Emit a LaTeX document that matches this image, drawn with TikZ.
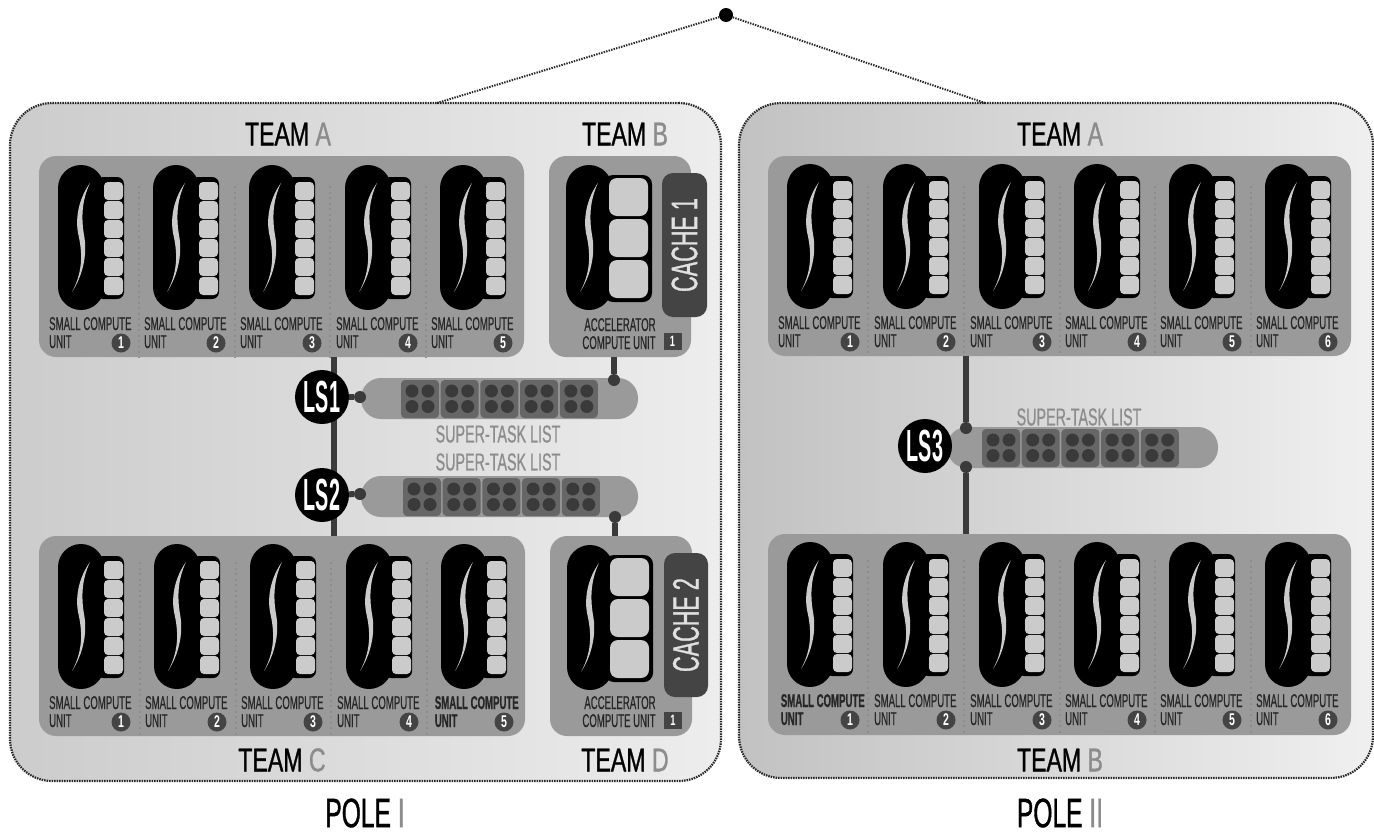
\documentclass[tikz,border=0pt]{standalone}
\usepackage{fontspec}
\setmainfont[FakeStretch=0.52,FakeBold=0.5]{Liberation Sans}
\newfontfamily\teamf[FakeStretch=0.7,FakeBold=0.9]{Liberation Sans}
\newfontfamily\polef[FakeStretch=0.6,FakeBold=0.9]{Liberation Sans}
\newfontfamily\taskf[FakeStretch=0.585,FakeBold=0.6]{Liberation Sans}
\newfontfamily\cachef[FakeStretch=0.585,FakeBold=0.9]{Liberation Sans}
\newfontfamily\lsf[FakeStretch=0.44]{Liberation Sans Bold}
\newfontfamily\numf[FakeStretch=0.62]{Liberation Sans Bold}
\definecolor{boxg}{HTML}{9A9A9A}
\definecolor{cellg}{HTML}{CBCBCB}
\definecolor{darkg}{HTML}{444444}
\definecolor{tileg}{HTML}{666666}
\definecolor{dotg}{HTML}{3A3A3A}
\definecolor{labg}{HTML}{8C8C8C}
\tikzset{
  bx/.style={inner sep=0pt,outer sep=0pt,fill=boxg,rounded corners=17pt},
  panelbox/.style={inner sep=0pt,outer sep=0pt,rounded corners=42pt,draw=black!85,line width=2.2pt,dash pattern=on 1.5pt off 1pt},
  wire/.style={line width=6pt,draw=dotg},
  linkdot/.style={circle,fill=dotg,minimum size=12pt,inner sep=0pt,outer sep=0pt},
  lsnode/.style={circle,fill=black,text=white,minimum size=54pt,inner sep=0pt,font=\lsf\fontsize{45}{45}\selectfont},
  divider/.style={draw=black!45,line width=1.5pt,dash pattern=on 2pt off 3.5pt},
  small/.style={inner sep=0pt,anchor=base west,text=black!85,font=\fontsize{18.5}{18.5}\selectfont},
  teamlab/.style={inner sep=0pt,font=\teamf\fontsize{33}{33}\selectfont},
  polelab/.style={inner sep=0pt,font=\polef\fontsize{41}{41}\selectfont},
  tasklab/.style={inner sep=0pt,text=labg,font=\taskf\fontsize{24.5}{24.5}\selectfont},
  cachelab/.style={inner sep=0pt,text=black!12,rotate=90,font=\cachef\fontsize{37}{37}\selectfont},
  numc/.style={circle,fill=darkg,text=white,minimum size=19pt,inner sep=0pt,font=\numf\fontsize{17}{17}\selectfont},
  numsq/.style={fill=darkg,text=white,minimum width=18pt,minimum height=17pt,inner sep=0pt,font=\numf\fontsize{15}{15}\selectfont},
  cachebox/.style={inner sep=0pt,fill=darkg,rounded corners=11pt},
}
% #1 x of pill, #2 y of pill
\newcommand{\pillbody}[2]{
  \fill[black,rounded corners=23pt] (#1,#2) rectangle ++(46,145);
  \fill[cellg] (#1+32,#2+18) .. controls (#1+22,#2+32) and (#1+17,#2+50) .. (#1+20,#2+68)
     .. controls (#1+24,#2+85) and (#1+26,#2+105) .. (#1+14,#2+127)
     .. controls (#1+24,#2+112) and (#1+30,#2+90) .. (#1+26,#2+70)
     .. controls (#1+23,#2+52) and (#1+24,#2+35) .. (#1+32,#2+18) -- cycle;
}
% #1 name, #2 x, #3 y, #4 number, #5 font switch
\newcommand{\smallunit}[5]{
  \pillbody{#2}{#3}
  \fill[black,rounded corners=7pt] (#2+38,#3+12) rectangle ++(28,122);
  \foreach \c in {0,...,5}
    \fill[cellg,rounded corners=4pt] (#2+46,#3+17+19*\c) rectangle ++(19,18);
  \node[small] (#1a) at (#2-9,#3+165) {#5 SMALL COMPUTE};
  \node[small] (#1b) at (#2-9,#3+183) {#5 UNIT};
  \node[numc] (#1n) at (#2+63,#3+178) {#4};
}
% #1 x, #2 y
\newcommand{\accelunit}[2]{
  \pillbody{#1}{#2}
  \fill[black,rounded corners=9pt] (#1+38,#2+10) rectangle ++(48,127);
  \foreach \c in {0,1,2}
    \fill[cellg,rounded corners=8pt] (#1+43,#2+13+41*\c) rectangle ++(39,38);
}
% #1 x, #2 y : five tiles
\newcommand{\tiles}[2]{
  \foreach \t in {0,...,4}{
    \fill[tileg,rounded corners=4pt] (#1+39.7*\t,#2) rectangle ++(38,38);
    \foreach \a/\b in {12/11,28/11,12/26.5,28/26.5}
      \fill[dotg] (#1+39.7*\t+\a-1,#2+\b) circle (6.5);
  }
}
\begin{document}
\begin{tikzpicture}[x=1pt,y=-1pt]
\useasboundingbox (0,0) rectangle (1374,833);
\fill[white] (0,0) rectangle (1374,833);
% panels
\node[panelbox,left color=black!20,right color=black!7,minimum width=711pt,minimum height=678pt] (pole1) at (365.5,442) {};
\node[panelbox,left color=black!24,right color=black!6,minimum width=634pt,minimum height=675pt] (pole2) at (1056,440.5) {};
% apex
\node[circle,fill=black,minimum size=14pt,inner sep=0pt] (apex) at (726,15) {};
\coordinate (p1top) at (437,103);
\coordinate (p2top) at (985,103);
\draw[line width=2pt,black!85,dash pattern=on 1.4pt off 1.2pt] (p1top) -- (apex) -- (p2top);
% boxes
\node[bx,minimum width=485pt,minimum height=201pt] (ta) at (281.5,256.5) {};
\node[bx,minimum width=142pt,minimum height=201pt] (tb) at (620,256.5) {};
\node[bx,minimum width=486pt,minimum height=200pt] (tc) at (282,636) {};
\node[bx,minimum width=142pt,minimum height=200pt] (td) at (621,636) {};
\node[bx,minimum width=583pt,minimum height=200pt] (ra) at (1059.5,256) {};
\node[bx,minimum width=583pt,minimum height=201pt] (rb) at (1059.5,634.5) {};
% LS pills
\node[bx,rounded corners=20pt,minimum width=277pt,minimum height=41pt] (p1) at (499.5,398.5) {};
\node[bx,rounded corners=20pt,minimum width=277pt,minimum height=41pt] (p2) at (499.5,496.5) {};
\node[bx,rounded corners=20pt,minimum width=271pt,minimum height=41pt] (p3) at (1082.5,447.5) {};
% LS nodes and wires
\coordinate (w1) at (334,397);
\node[linkdot] (d1) at (360,397) {};
\node[linkdot] (d2) at (360,494) {};
\node[linkdot] (db) at (614,380) {};
\node[linkdot] (dd) at (615,517) {};
\node[linkdot] (d3a) at (966,428) {};
\node[linkdot] (d3b) at (966,467) {};
\draw[wire] (ta.south -| w1) -- (tc.north -| w1);
\draw[wire] (tb.south -| db) -- (db);
\draw[wire] (dd) -- (td.north -| dd);
\draw[wire] (ra.south -| d3a) -- (d3a);
\draw[wire] (d3b) -- (rb.north -| d3b);
\node[lsnode] (ls1) at (322,397) {LS1};
\node[lsnode] (ls2) at (322,495) {LS2};
\node[lsnode] (ls3) at (925,446) {LS3};
\draw[wire] (ls1) -- (d1);
\draw[wire] (ls2) -- (d2);
\tiles{401}{380}
\tiles{403}{478}
\tiles{982}{429}
% dividers
\foreach \x in {139,235,330,426}{
  \draw[divider] (\x,186) -- (\x,357);
  \draw[divider] (\x+1,562) -- (\x+1,736);
}
\foreach \x in {868,964,1060,1155,1251}{
  \draw[divider] (\x,186) -- (\x,356);
  \draw[divider] (\x,560) -- (\x,735);
}
% units
\smallunit{a1}{58}{165}{1}{}
\smallunit{a2}{153}{165}{2}{}
\smallunit{a3}{249}{165}{3}{}
\smallunit{a4}{345}{165}{4}{}
\smallunit{a5}{440}{165}{5}{}
\smallunit{c1}{58}{544}{1}{}
\smallunit{c2}{154}{544}{2}{}
\smallunit{c3}{250}{544}{3}{}
\smallunit{c4}{346}{544}{4}{}
\smallunit{c5}{441}{544}{5}{\bfseries}
\smallunit{ra1}{787}{164}{1}{}
\smallunit{ra2}{883}{164}{2}{}
\smallunit{ra3}{979}{164}{3}{}
\smallunit{ra4}{1074}{164}{4}{}
\smallunit{ra5}{1169}{164}{5}{}
\smallunit{ra6}{1265}{164}{6}{}
\smallunit{rb1}{787}{542}{1}{\bfseries}
\smallunit{rb2}{883}{542}{2}{}
\smallunit{rb3}{979}{542}{3}{}
\smallunit{rb4}{1074}{542}{4}{}
\smallunit{rb5}{1169}{542}{5}{}
\smallunit{rb6}{1265}{542}{6}{}
% accelerators
\accelunit{566}{165}
\accelunit{567}{545}
\node[cachebox,minimum width=45pt,minimum height=144pt] (c1box) at (684.5,245) {};
\node[cachebox,minimum width=44pt,minimum height=144pt] (c2box) at (686,625) {};
\node[cachelab] (c1t) at (684.5,245) {CACHE 1};
\node[cachelab] (c2t) at (686,625) {CACHE 2};
\node[small,anchor=base] (b1a) at (620,331) {ACCELERATOR};
\node[small,anchor=base] (b1b) at (619,349) {COMPUTE UNIT};
\node[small,anchor=base] (d1a) at (620,709) {ACCELERATOR};
\node[small,anchor=base] (d1b) at (619,727) {COMPUTE UNIT};
\node[numsq] (b1n) at (672.5,341.5) {1};
\node[numsq] (d1n) at (673,720) {1};
% labels
\node[tasklab] (s1) at (498,434) {SUPER-TASK LIST};
\node[tasklab] (s2) at (498,462) {SUPER-TASK LIST};
\node[tasklab] (s3) at (1079,417) {SUPER-TASK LIST};
\node[teamlab] (l1) at (288,134) {TEAM \textcolor{labg}{A}};
\node[teamlab] (l2) at (625,134) {TEAM \textcolor{labg}{B}};
\node[teamlab] (l3) at (1060,134) {TEAM \textcolor{labg}{A}};
\node[teamlab] (l4) at (282,760) {TEAM \textcolor{labg}{C}};
\node[teamlab] (l5) at (625,760) {TEAM \textcolor{labg}{D}};
\node[teamlab] (l6) at (1060,760) {TEAM \textcolor{labg}{B}};
\node[polelab] (l7) at (365,813) {POLE \textcolor{labg}{I}};
\node[polelab] (l8) at (1060,813) {POLE \textcolor{labg}{II}};
\end{tikzpicture}
\end{document}
